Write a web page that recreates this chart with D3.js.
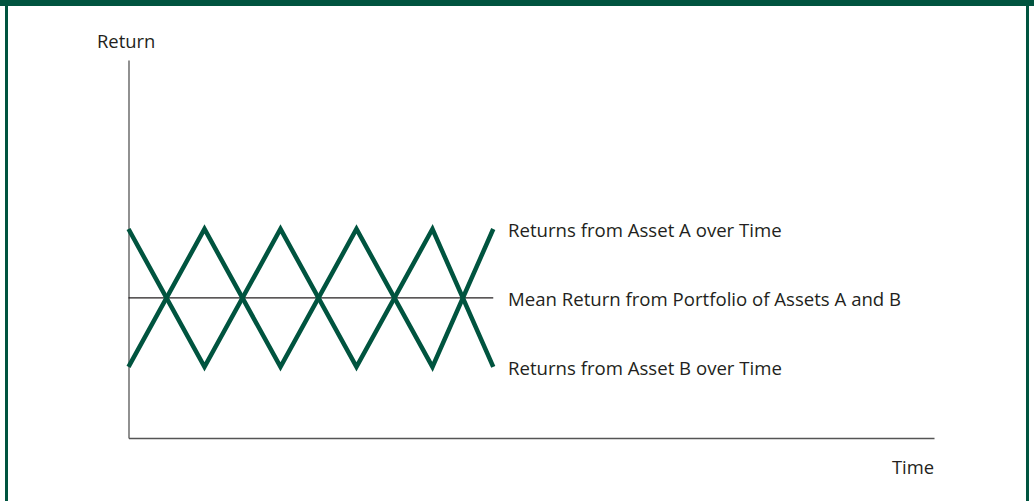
<!DOCTYPE html>
<html>
<head>
<meta charset="utf-8">
<script src="https://cdn.jsdelivr.net/npm/d3@7"></script>
<style>
  html, body { margin: 0; padding: 0; background: #fff; }
  svg { display: block; }
  text { font-family: "Open Sans", sans-serif; fill: #231f20; }
</style>
</head>
<body>
<div id="chart"></div>
<script>
// ---- data ----
const time = [0, 1, 2, 3, 4, 4.8];
const assetA = [-1, 1, -1, 1, -1, 1];
const assetB = [1, -1, 1, -1, 1, -1];
const meanReturn = [0, 0];
const meanTime = [0, 4.8];
const seriesLabels = ["Returns from Asset A over Time", "Mean Return from Portfolio of Assets A and B", "Returns from Asset B over Time"];
const labelValues = [1, 0, -1];
const axisTitles = ["Return", "Time"];

// ---- layout ----
const W = 1034, H = 501;
const green = "#00543f";
const svg = d3.select("#chart").append("svg").attr("width", W).attr("height", H);

// frame
svg.append("rect").attr("x", 0).attr("y", 0).attr("width", W).attr("height", 6).attr("fill", green);
svg.append("rect").attr("x", 5).attr("y", 0).attr("width", 3).attr("height", H).attr("fill", green);
svg.append("rect").attr("x", 1026).attr("y", 0).attr("width", 3).attr("height", H).attr("fill", green);

const x = d3.scaleLinear().domain([0, 10.6]).range([128.5, 934]);
const y = d3.scaleLinear().domain([-2.03, 3.45]).range([438, 60]);

// axes (no ticks)
svg.append("g").attr("transform", `translate(0,${y(-2.03)})`)
  .call(d3.axisBottom(x).tickValues([]).tickSizeOuter(0))
  .call(g => g.select(".domain").attr("stroke", "#555").attr("stroke-width", 1.3));
svg.append("g").attr("transform", `translate(${x(0)},0)`)
  .call(d3.axisLeft(y).tickValues([]).tickSizeOuter(0))
  .call(g => g.select(".domain").attr("stroke", "#555").attr("stroke-width", 1.3));

// mean line
const meanLine = d3.line().x((d, i) => x(meanTime[i])).y(d => y(d));
svg.append("path").datum(meanReturn).attr("d", meanLine)
  .attr("fill", "none").attr("stroke", "#231f20").attr("stroke-width", 1.2);

// zigzags
const line = d3.line().x((d, i) => x(time[i])).y(d => y(d));
[assetA, assetB].forEach(s => {
  svg.append("path").datum(s).attr("d", line)
    .attr("fill", "none").attr("stroke", green).attr("stroke-width", 4.5)
    .attr("stroke-linejoin", "miter").attr("stroke-linecap", "butt");
});

// series labels
svg.selectAll("text.lbl").data(seriesLabels).enter().append("text")
  .attr("class", "lbl")
  .attr("x", 508)
  .attr("y", (d, i) => y(labelValues[i]) + 8.5)
  .attr("font-size", 18.6)
  .text(d => d);

// axis titles
svg.append("text").attr("x", 97).attr("y", 48).attr("font-size", 18.4).text(axisTitles[0]);
svg.append("text").attr("x", 934).attr("y", 474).attr("text-anchor", "end").attr("font-size", 18.4).text(axisTitles[1]);
</script>
</body>
</html>
